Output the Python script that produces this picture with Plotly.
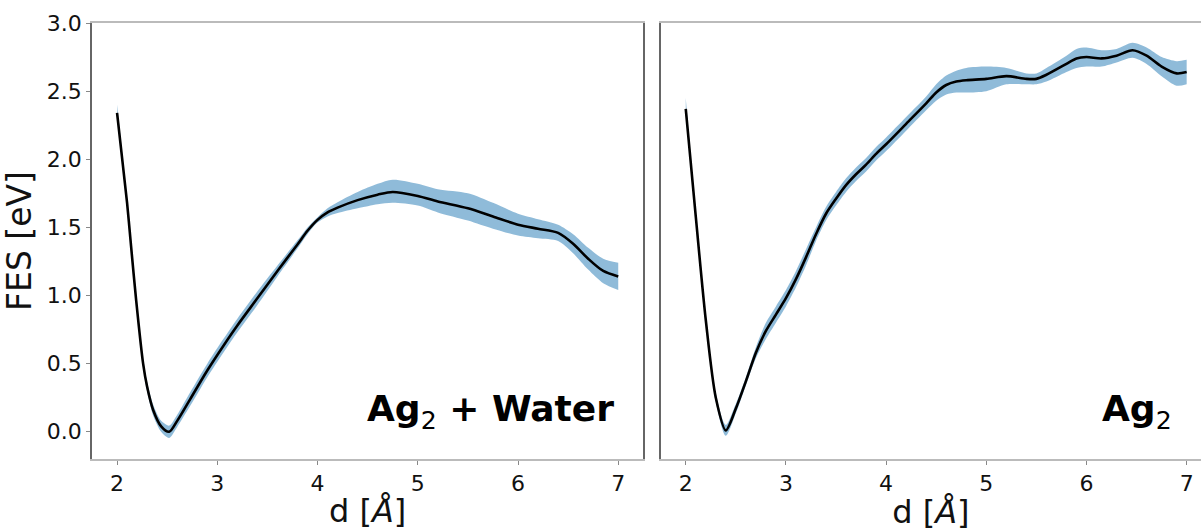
import plotly.graph_objects as go

# ---- Data: Ag2 + Water ----
xw = [2.0, 2.1, 2.14, 2.19, 2.26, 2.3, 2.36, 2.44, 2.52, 2.6, 2.73, 2.9, 3.06, 3.2, 3.39, 3.6, 3.8, 3.9, 4.0,
      4.1, 4.2, 4.4, 4.6, 4.75, 5.0, 5.2, 5.5, 5.75, 6.0, 6.2, 6.4, 6.55, 6.7, 6.85, 7.0]
yw = [2.34, 1.68, 1.36, 0.97, 0.50, 0.33, 0.16, 0.04, 0.0, 0.08, 0.24, 0.45, 0.63, 0.78, 0.97, 1.18, 1.375, 1.475, 1.555,
      1.61, 1.645, 1.70, 1.74, 1.76, 1.73, 1.69, 1.64, 1.58, 1.52, 1.49, 1.46, 1.38, 1.27, 1.18, 1.14]
ew_hi = [0.06, 0.02, 0.02, 0.03, 0.03, 0.035, 0.04, 0.04, 0.045, 0.045, 0.05, 0.05, 0.05, 0.05, 0.05, 0.04, 0.03, 0.025, 0.02,
         0.03, 0.04, 0.06, 0.08, 0.09, 0.09, 0.09, 0.11, 0.10, 0.08, 0.07, 0.06, 0.07, 0.08, 0.09, 0.10]
ew_lo = [0.0, 0.02, 0.02, 0.03, 0.03, 0.035, 0.04, 0.04, 0.045, 0.045, 0.05, 0.05, 0.05, 0.05, 0.05, 0.04, 0.03, 0.025, 0.02,
         0.03, 0.04, 0.06, 0.07, 0.08, 0.07, 0.08, 0.09, 0.09, 0.08, 0.07, 0.06, 0.07, 0.08, 0.09, 0.10]

# ---- Data: Ag2 ----
xa = [2.0, 2.1, 2.2, 2.3, 2.4, 2.5, 2.6, 2.7, 2.8, 2.9, 3.0, 3.1, 3.2, 3.3, 3.4, 3.5, 3.6, 3.7, 3.8, 3.9, 4.0,
      4.2, 4.4, 4.5, 4.6, 4.7, 4.8, 5.0, 5.2, 5.4, 5.5, 5.6, 5.8, 5.9, 6.0, 6.15, 6.3, 6.46, 6.6, 6.75, 6.9, 7.0]
ya = [2.37, 1.58, 0.82, 0.25, 0.01, 0.17, 0.37, 0.58, 0.74, 0.86, 0.98, 1.12, 1.28, 1.45, 1.60, 1.71, 1.81, 1.89,
      1.96, 2.04, 2.11, 2.26, 2.41, 2.49, 2.545, 2.57, 2.58, 2.59, 2.61, 2.59, 2.59, 2.62, 2.70, 2.74, 2.75, 2.74, 2.76,
      2.80, 2.76, 2.68, 2.63, 2.64]
ea_hi = [0.08, 0.02, 0.02, 0.03, 0.04, 0.035, 0.03, 0.04, 0.06, 0.06, 0.06, 0.06, 0.06, 0.05, 0.05, 0.05, 0.05, 0.05,
         0.05, 0.05, 0.05, 0.05, 0.05, 0.06, 0.07, 0.08, 0.09, 0.09, 0.06, 0.04, 0.04, 0.05, 0.06, 0.07, 0.07, 0.06, 0.05,
         0.055, 0.06, 0.07, 0.09, 0.09]
ea_lo = [0.0, 0.02, 0.02, 0.03, 0.04, 0.035, 0.03, 0.04, 0.06, 0.06, 0.06, 0.06, 0.06, 0.05, 0.05, 0.05, 0.05, 0.05,
         0.05, 0.05, 0.05, 0.05, 0.05, 0.06, 0.07, 0.08, 0.09, 0.09, 0.06, 0.04, 0.04, 0.05, 0.06, 0.07, 0.07, 0.06, 0.05,
         0.055, 0.06, 0.07, 0.09, 0.09]

labels = ["<b>Ag</b><sub>2</sub><b> + Water</b>", "<b>Ag</b><sub>2</sub>"]
x_ticks = [2, 3, 4, 5, 6, 7]
y_ticks = [0.0, 0.5, 1.0, 1.5, 2.0, 2.5, 3.0]

BAND = "rgba(31,119,180,0.5)"
FONT = "DejaVu Sans"

fig = go.Figure()


def add_panel(x, y, ehi, elo, xa_name, ya_name):
    up = [v + e for v, e in zip(y, ehi)]
    lo = [v - e for v, e in zip(y, elo)]
    fig.add_trace(go.Scatter(x=x, y=up, mode="lines", line=dict(width=0, shape="spline", smoothing=0.8),
                             xaxis=xa_name, yaxis=ya_name, showlegend=False, hoverinfo="skip"))
    fig.add_trace(go.Scatter(x=x, y=lo, mode="lines", line=dict(width=0, shape="spline", smoothing=0.8),
                             fill="tonexty", fillcolor=BAND,
                             xaxis=xa_name, yaxis=ya_name, showlegend=False, hoverinfo="skip"))
    fig.add_trace(go.Scatter(x=x, y=y, mode="lines", line=dict(color="black", width=2.6, shape="spline", smoothing=0.8),
                             xaxis=xa_name, yaxis=ya_name, showlegend=False))


add_panel(xw, yw, ew_hi, ew_lo, "x", "y")
add_panel(xa, ya, ea_hi, ea_lo, "x2", "y2")

W, H = 1201, 531
ml, mr, mt, mb = 92, 0, 23, 72
pw = W - ml - mr
d1 = [0, (643.3 - ml) / pw]
d2 = [(660.7 - ml) / pw, 1]

xcommon = dict(tickvals=x_ticks, ticks="outside", ticklen=4, tickcolor="#888", tickwidth=1,
               showline=True, linecolor="#bbbbbb", linewidth=1.5, mirror=True,
               showgrid=False, zeroline=False,
               tickfont=dict(family=FONT, size=22, color="#111"),
               title=dict(text="d [<i>Å</i>]", font=dict(family=FONT, size=32, color="#111"), standoff=4))

fig.update_layout(
    width=W, height=H,
    margin=dict(l=ml, r=mr, t=mt, b=mb),
    plot_bgcolor="white", paper_bgcolor="white",
    xaxis=dict(domain=d1, range=[1.75, 7.25], anchor="y", **xcommon),
    xaxis2=dict(domain=d2, range=[1.75, 7.143], anchor="y2", **xcommon),
    yaxis=dict(range=[-0.2, 3.0], tickvals=y_ticks, ticktext=[f"{v:.1f}" for v in y_ticks],
               ticks="outside", ticklen=4, tickcolor="#888",
               showline=True, linecolor="#666666", linewidth=1.5, mirror=True,
               showgrid=False, zeroline=False, anchor="x",
               tickfont=dict(family=FONT, size=22, color="#111"),
               title=dict(text="FES [eV]", font=dict(family=FONT, size=33, color="#111"), standoff=6)),
    yaxis2=dict(range=[-0.2, 3.0], showticklabels=False, ticks="",
                showline=True, linecolor="#666666", linewidth=1.5, mirror=False,
                showgrid=False, zeroline=False, anchor="x2"),
)

for i, (xr, yr) in enumerate([("x domain", "y domain"), ("x2 domain", "y2 domain")]):
    fig.add_annotation(text=labels[i], xref=xr, yref=yr, x=0.95, y=0.05, xanchor="right", yanchor="bottom",
                       showarrow=False, font=dict(family=FONT, size=36, color="black"))

fig.write_html("out.html")
